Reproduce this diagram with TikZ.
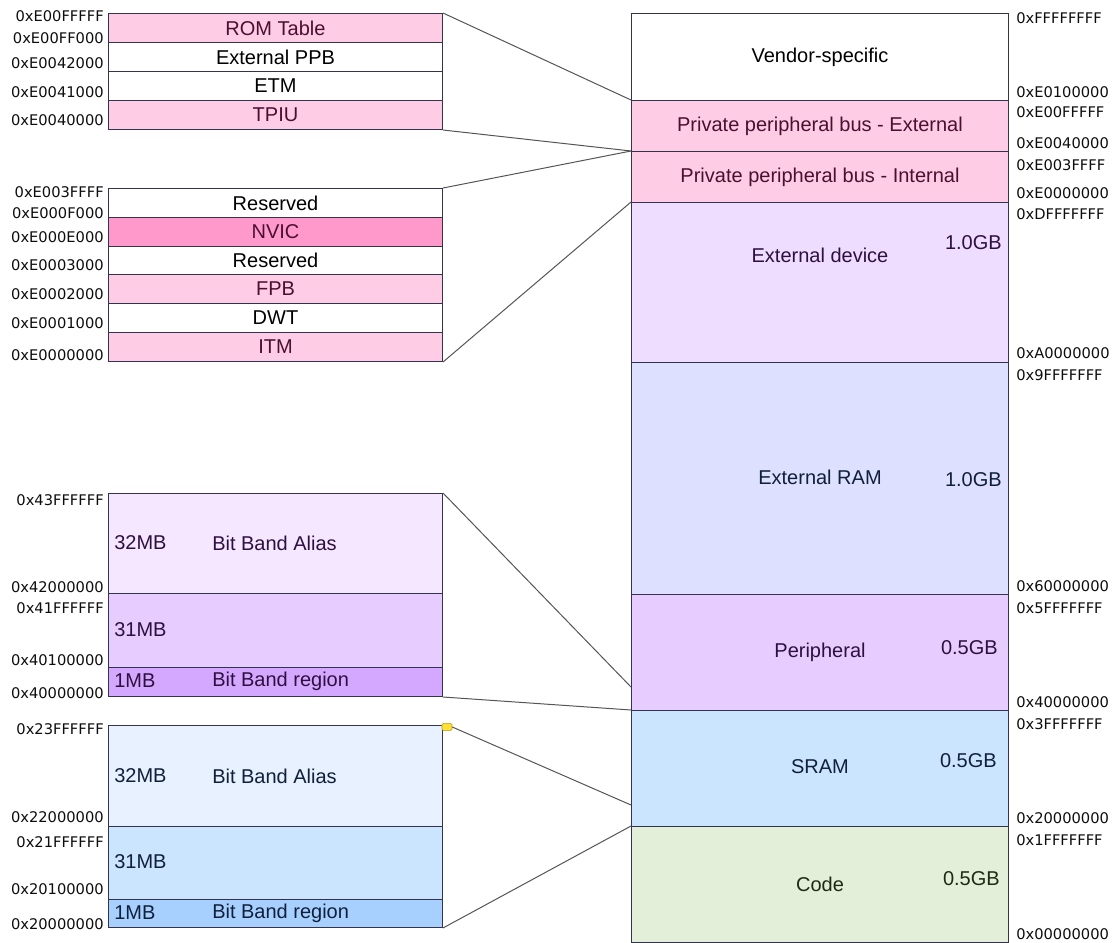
\documentclass[tikz,border=0pt]{standalone}
\usepackage{fontspec}
\setmainfont{Liberation Sans}
\newfontfamily\adrfont{DejaVu Sans}
\usepackage{xcolor}
\usepackage{tikz}
\usetikzlibrary{positioning}
\definecolor{edge}{HTML}{33334D}
\definecolor{linkgray}{HTML}{555555}
\definecolor{adrtext}{HTML}{0D0D0D}
\definecolor{pinkbox}{HTML}{FFCCE6}
\definecolor{nvicpink}{HTML}{FF99CC}
\definecolor{pinktext}{HTML}{4A1030}
\definecolor{extdevfill}{HTML}{EFDDFF}
\definecolor{extramfill}{HTML}{DEE0FF}
\definecolor{periphfill}{HTML}{E7CCFF}
\definecolor{sramfill}{HTML}{CCE5FF}
\definecolor{codefill}{HTML}{E3EFD9}
\definecolor{paliasfill}{HTML}{F4E7FF}
\definecolor{pregionfill}{HTML}{D5A8FF}
\definecolor{saliasfill}{HTML}{E7F1FF}
\definecolor{sregionfill}{HTML}{A8D0FF}
\definecolor{purpletext}{HTML}{2E1040}
\definecolor{bluetext}{HTML}{10203A}
\definecolor{greentext}{HTML}{1E2A12}
\definecolor{notefill}{HTML}{FFE033}
\tikzstyle{cell} = [draw=edge,line width=0.75pt,inner sep=0pt,anchor=north west,font=\fontsize{15}{18}\selectfont]
\tikzstyle{leftcell} = [cell,minimum width=334*0.75pt]
\tikzstyle{rightcell} = [cell,minimum width=377*0.75pt]
\tikzstyle{adr} = [inner sep=0pt,text=adrtext,font=\adrfont\fontsize{11}{13}\selectfont]
\tikzstyle{txt} = [inner sep=0pt,font=\fontsize{15}{18}\selectfont]
\tikzstyle{link} = [draw=linkgray,line width=0.75pt]
\tikzset{tall/.style={minimum height=#1*0.75pt}}

\begin{document}
\begin{tikzpicture}[x=0.75pt,y=-0.75pt]
            \useasboundingbox (0,0) rectangle (1115,943);
            % memory map
          \node[rightcell,tall=87] (vendor) at (631,13) {Vendor-specific};
          \node[rightcell,tall=51,fill=pinkbox,text=pinktext] (ppbext) at (631,100) {Private peripheral bus - External};
          \node[rightcell,tall=51,fill=pinkbox,text=pinktext] (ppbint) at (631,151) {Private peripheral bus - Internal};
          \node[rightcell,tall=160,fill=extdevfill] (extdev) at (631,202) {};
          \node[rightcell,tall=232,fill=extramfill] (extram) at (631,362) {};
          \node[rightcell,tall=116,fill=periphfill] (periph) at (631,594) {};
          \node[rightcell,tall=116,fill=sramfill] (sram) at (631,710) {};
          \node[rightcell,tall=116,fill=codefill] (code) at (631,826) {};

          \node[txt,text=purpletext] (extdevname) at (820,255) {External device};
          \node[txt,text=purpletext,anchor=east] (extdevsize) at (1002,243) {1.0GB};
          \node[txt,text=bluetext] (extramname) at (820,477) {External RAM};
          \node[txt,text=bluetext,anchor=east] (extramsize) at (1002,480) {1.0GB};
          \node[txt,text=purpletext] (periphname) at (820,652) {Peripheral};
          \node[txt,text=purpletext,anchor=east] (periphsize) at (998,648) {0.5GB};
          \node[txt,text=bluetext] (sramname) at (820,767) {SRAM};
          \node[txt,text=bluetext,anchor=east] (sramsize) at (997,761) {0.5GB};
          \node[txt,text=greentext] (codename) at (820,884) {Code};
          \node[txt,text=greentext,anchor=east] (codesize) at (1000,879) {0.5GB};

            % external ppb
          \node[leftcell,tall=29,fill=pinkbox,text=pinktext] (romtable) at (108,13) {ROM Table};
          \node[leftcell,tall=29] (extppb) at (108,42) {External PPB};
          \node[leftcell,tall=29] (etm) at (108,71) {ETM};
          \node[leftcell,tall=29,fill=pinkbox,text=pinktext] (tpiu) at (108,100) {TPIU};

            % internal ppb
          \node[leftcell,tall=29] (reservedA) at (108,188) {Reserved};
          \node[leftcell,tall=29,fill=nvicpink,text=pinktext] (nvic) at (108,217) {NVIC};
          \node[leftcell,tall=28] (reservedB) at (108,246) {Reserved};
          \node[leftcell,tall=29,fill=pinkbox,text=pinktext] (fpb) at (108,274) {FPB};
          \node[leftcell,tall=29] (dwt) at (108,303) {DWT};
          \node[leftcell,tall=29,fill=pinkbox,text=pinktext] (itm) at (108,332) {ITM};

            % peripheral bit band
          \node[leftcell,tall=100,fill=paliasfill] (palias) at (108,493) {};
          \node[leftcell,tall=74,fill=periphfill] (prest) at (108,593) {};
          \node[leftcell,tall=29,fill=pregionfill] (pregion) at (108,667) {};
          \node[txt,text=purpletext,anchor=west] (paliassize) at (114,543) {32MB};
          \node[txt,text=purpletext,anchor=west] (paliasname) at (212,543) {Bit Band Alias};
          \node[txt,text=purpletext,anchor=west] (prestsize) at (114,630) {31MB};
          \node[txt,text=purpletext,anchor=west] (pregionsize) at (114,681) {1MB};
          \node[txt,text=purpletext,anchor=west] (pregionname) at (212,681) {Bit Band region};

            % sram bit band
          \node[leftcell,tall=101,fill=saliasfill] (salias) at (108,725) {};
          \node[leftcell,tall=73,fill=sramfill] (srest) at (108,826) {};
          \node[leftcell,tall=28,fill=sregionfill] (sregion) at (108,899) {};
          \node[txt,text=bluetext,anchor=west] (saliassize) at (114,776) {32MB};
          \node[txt,text=bluetext,anchor=west] (saliasname) at (212,776) {Bit Band Alias};
          \node[txt,text=bluetext,anchor=west] (srestsize) at (114,862) {31MB};
          \node[txt,text=bluetext,anchor=west] (sregionsize) at (114,913) {1MB};
          \node[txt,text=bluetext,anchor=west] (sregionname) at (212,913) {Bit Band region};
          \node[fill=notefill,draw=notefill!70!black,line width=0.4pt,rounded corners=1pt,inner sep=0pt,minimum width=7.5pt,minimum height=5.5pt] (note) at (447,727) {};

            % connectors
          \coordinate (periphtap) at (631,687);
          \coordinate (sramtap) at (631,805);
          \draw[link] (romtable.north east) -- (ppbext.north west);
          \draw[link] (tpiu.south east) -- (ppbint.north west);
          \draw[link] (reservedA.north east) -- (ppbint.north west);
          \draw[link] (itm.south east) -- (extdev.north west);
          \draw[link] (palias.north east) -- (periphtap);
          \draw[link] (pregion.south east) -- (sram.north west);
          \draw[link] (note.east) -- (sramtap);
          \draw[link] (sregion.south east) -- (code.north west);

            % addresses, right
          \node[adr,anchor=west] (rA) at (1016,18) {0xFFFFFFFF};
          \node[adr,anchor=west] (rB) at (1016,92) {0xE0100000};
          \node[adr,anchor=west] (rC) at (1016,112) {0xE00FFFFF};
          \node[adr,anchor=west] (rD) at (1016,143) {0xE0040000};
          \node[adr,anchor=west] (rE) at (1016,165) {0xE003FFFF};
          \node[adr,anchor=west] (rF) at (1016,193) {0xE0000000};
          \node[adr,anchor=west] (rG) at (1016,214) {0xDFFFFFFF};
          \node[adr,anchor=west] (rH) at (1016,353) {0xA0000000};
          \node[adr,anchor=west] (rI) at (1016,375) {0x9FFFFFFF};
          \node[adr,anchor=west] (rJ) at (1016,586) {0x60000000};
          \node[adr,anchor=west] (rK) at (1016,608) {0x5FFFFFFF};
          \node[adr,anchor=west] (rL) at (1016,702) {0x40000000};
          \node[adr,anchor=west] (rM) at (1016,724) {0x3FFFFFFF};
          \node[adr,anchor=west] (rN) at (1016,818) {0x20000000};
          \node[adr,anchor=west] (rO) at (1016,840) {0x1FFFFFFF};
          \node[adr,anchor=west] (rP) at (1016,934) {0x00000000};

            % addresses, left
          \node[adr,anchor=east] (lA) at (104,16) {0xE00FFFFF};
          \node[adr,anchor=east] (lB) at (104,38) {0xE00FF000};
          \node[adr,anchor=east] (lC) at (104,63) {0xE0042000};
          \node[adr,anchor=east] (lD) at (104,92) {0xE0041000};
          \node[adr,anchor=east] (lE) at (104,120) {0xE0040000};
          \node[adr,anchor=east] (lF) at (104,192) {0xE003FFFF};
          \node[adr,anchor=east] (lG) at (104,213) {0xE000F000};
          \node[adr,anchor=east] (lH) at (104,237) {0xE000E000};
          \node[adr,anchor=east] (lI) at (104,265) {0xE0003000};
          \node[adr,anchor=east] (lJ) at (104,294) {0xE0002000};
          \node[adr,anchor=east] (lK) at (104,323) {0xE0001000};
          \node[adr,anchor=east] (lL) at (104,355) {0xE0000000};
          \node[adr,anchor=east] (lM) at (104,500) {0x43FFFFFF};
          \node[adr,anchor=east] (lN) at (104,587) {0x42000000};
          \node[adr,anchor=east] (lO) at (104,608) {0x41FFFFFF};
          \node[adr,anchor=east] (lP) at (104,660) {0x40100000};
          \node[adr,anchor=east] (lQ) at (104,693) {0x40000000};
          \node[adr,anchor=east] (lR) at (104,729) {0x23FFFFFF};
          \node[adr,anchor=east] (lS) at (104,817) {0x22000000};
          \node[adr,anchor=east] (lT) at (104,842) {0x21FFFFFF};
          \node[adr,anchor=east] (lU) at (104,889) {0x20100000};
          \node[adr,anchor=east] (lV) at (104,924) {0x20000000};
        \end{tikzpicture}
\end{document}
